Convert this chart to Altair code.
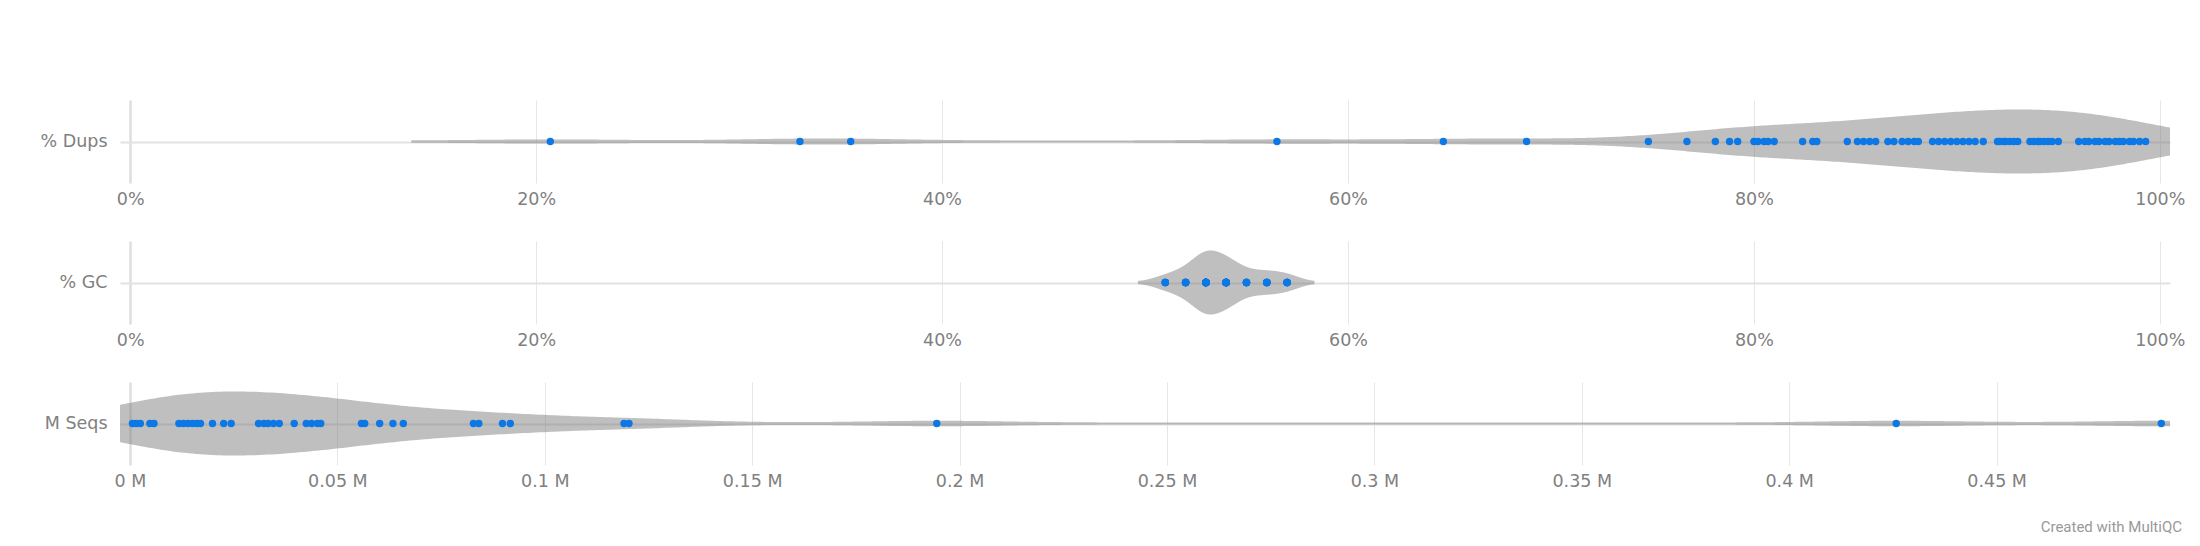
import altair as alt
import pandas as pd

# ---- data ----
dups = [20.7, 33.0, 35.5, 56.5, 64.7, 68.8, 74.8, 76.7, 78.1, 78.8, 79.2,
        80.0, 80.2, 80.5, 80.7, 81.0,
        82.4, 82.9, 83.1,
        84.6,
        85.1, 85.4, 85.7, 86.0,
        86.6, 86.9, 87.3, 87.6, 87.9, 88.1,
        88.8, 89.1, 89.4, 89.7, 90.0, 90.3, 90.6, 90.9,
        91.3,
        92.0, 92.1, 92.3, 92.4, 92.6, 92.8, 93.0,
        93.6, 93.8, 94.0, 94.1, 94.3, 94.5, 94.7, 95.0,
        96.0,
        96.3, 96.5, 96.8, 97.0, 97.3, 97.5, 97.8, 98.0, 98.2, 98.5, 98.7, 99.0, 99.3]

gc_values = [51, 52, 53, 54, 55, 56, 57]
gc_counts = [4, 7, 19, 14, 6, 6, 5]

mseqs = [0.0006, 0.0015, 0.0025, 0.0048, 0.0058,
         0.0118, 0.0129, 0.0140, 0.0151, 0.0161, 0.0170,
         0.0199, 0.0226, 0.0244,
         0.0310, 0.0323, 0.0333, 0.0346, 0.0360,
         0.0396, 0.0425, 0.0438, 0.0452, 0.0460,
         0.0558, 0.0566, 0.0602, 0.0634, 0.0659,
         0.0828, 0.0841, 0.0898, 0.0917,
         0.1191, 0.1203,
         0.1945, 0.4258, 0.4897]

row_labels = ["% Dups", "% GC", "M Seqs"]
pct_ticks = [0, 20, 40, 60, 80, 100]
m_ticks = [0, 0.05, 0.1, 0.15, 0.2, 0.25, 0.3, 0.35, 0.4, 0.45]

gc = []
for v, c in zip(gc_values, gc_counts):
    gc += [v] * c

# ---- style ----
W = 2050
H = 83
FONT = "DejaVu Sans"
FS = 17.5
LABEL_COLOR = "#808080"
GRID = "#e6e6e6"
VIOLIN = "#808080"
POINT = "#0b78e6"
HALF = 41.5 / 31.0


def panel(values, label, domain, ticks, label_expr, bw, extent, extra=None):
    df = pd.DataFrame({"v": values})
    base = alt.Chart(df)
    x_axis = alt.Axis(values=ticks, labelExpr=label_expr, grid=True,
                      gridColor={"condition": {"test": "datum.value === 0", "value": "#dedede"}, "value": GRID},
                      gridWidth={"condition": {"test": "datum.value === 0", "value": 2.5}, "value": 1},
                      domain=False, ticks=False, labelFont=FONT, labelFontSize=FS,
                      labelColor=LABEL_COLOR, labelPadding=7, labelFlush=False,
                      minExtent=30, maxExtent=30, title=None)
    y_axis = alt.Axis(values=[0], labelExpr="'" + label + "'", grid=True, gridColor="#e2e2e2",
                      gridWidth=2, domain=False, ticks=False, labelFont=FONT, labelFontSize=FS,
                      labelColor=LABEL_COLOR, labelPadding=13, minExtent=100, maxExtent=100,
                      title=None)
    xs = alt.Scale(domain=domain, nice=False, zero=False)
    ys = alt.Scale(domain=[-HALF, HALF], nice=False, zero=False)
    violin = (base
              .transform_density("v", as_=["v", "density"], bandwidth=bw, extent=extent, steps=600)
              .transform_joinaggregate(dmax="max(density)")
              .transform_calculate(top="datum.density / datum.dmax",
                                   bot="-datum.density / datum.dmax")
              .mark_area(color=VIOLIN, stroke=VIOLIN, strokeWidth=2, opacity=0.5,
                         clip=True, orient="vertical", interpolate="linear")
              .encode(x=alt.X("v:Q", scale=xs, axis=x_axis),
                      y=alt.Y("top:Q", scale=ys, axis=y_axis),
                      y2="bot:Q"))
    pts = (base.transform_calculate(row="0")
           .mark_circle(size=55, color=POINT, opacity=1)
           .encode(x="v:Q", y="row:Q"))
    layers = [violin, pts]
    if extra is not None:
        layers.append(extra)
    return alt.layer(*layers).properties(width=W, height=H)


credit = (alt.Chart(pd.DataFrame({"t": ["Created with MultiQC"]}))
          .mark_text(align="right", baseline="middle", font="Roboto", fontSize=15, color="#999999")
          .encode(text="t:N", x=alt.value(W + 12), y=alt.value(145)))

p1 = panel(dups, row_labels[0], [-0.5, 100.5], pct_ticks, "datum.value + '%'", 3.4, [13.9, 106.1])
p2 = panel(gc, row_labels[1], [-0.5, 100.5], pct_ticks, "datum.value + '%'", 0.65, [49.7, 58.3])
p3 = panel(mseqs, row_labels[2], [-0.0024, 0.4918], m_ticks, "format(datum.value, '~g') + ' M'",
           0.017, [-0.04, 0.53], extra=credit)

chart = (alt.vconcat(p1, p2, p3, spacing=28)
         .properties(padding={"left": 12, "top": 92, "right": 5, "bottom": 5}, background="white")
         .configure_view(stroke=None))

chart.save("out.html", embed_options={"renderer": "svg", "actions": False})
